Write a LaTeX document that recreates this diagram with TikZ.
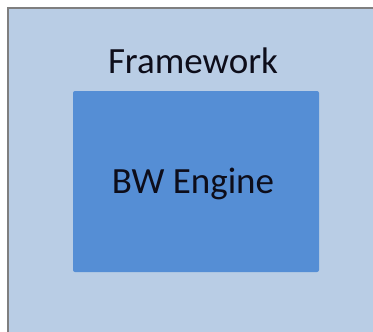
\documentclass[tikz,border=0pt]{standalone}
\usepackage{fontspec}
\setmainfont{Carlito}
\definecolor{outerfill}{HTML}{B9CDE5}
\definecolor{innerfill}{HTML}{558ED5}
\definecolor{framegray}{HTML}{7F7F7F}
\definecolor{txt}{HTML}{0D0D1A}
\begin{document}
\begin{tikzpicture}[x=1pt,y=-1pt,
  outerbox/.style={draw=framegray,line width=2.5pt,fill=outerfill},
  innerbox/.style={fill=innerfill,rounded corners=2pt},
  label/.style={inner sep=0pt,anchor=base,text=txt,font=\fontsize{37}{44}\selectfont}]
\useasboundingbox (0,0) rectangle (373,332);
\clip (0,0) rectangle (373,332);
\fill[white] (0,0) rectangle (373,332);
\draw[outerbox] (8,8) rectangle (380,340);
\fill[innerbox] (73,91) rectangle (319,272);
\node[label] (fw) at (193,73) {Framework};
\node[label] (bw) at (193,193) {BW Engine};
\end{tikzpicture}
\end{document}
